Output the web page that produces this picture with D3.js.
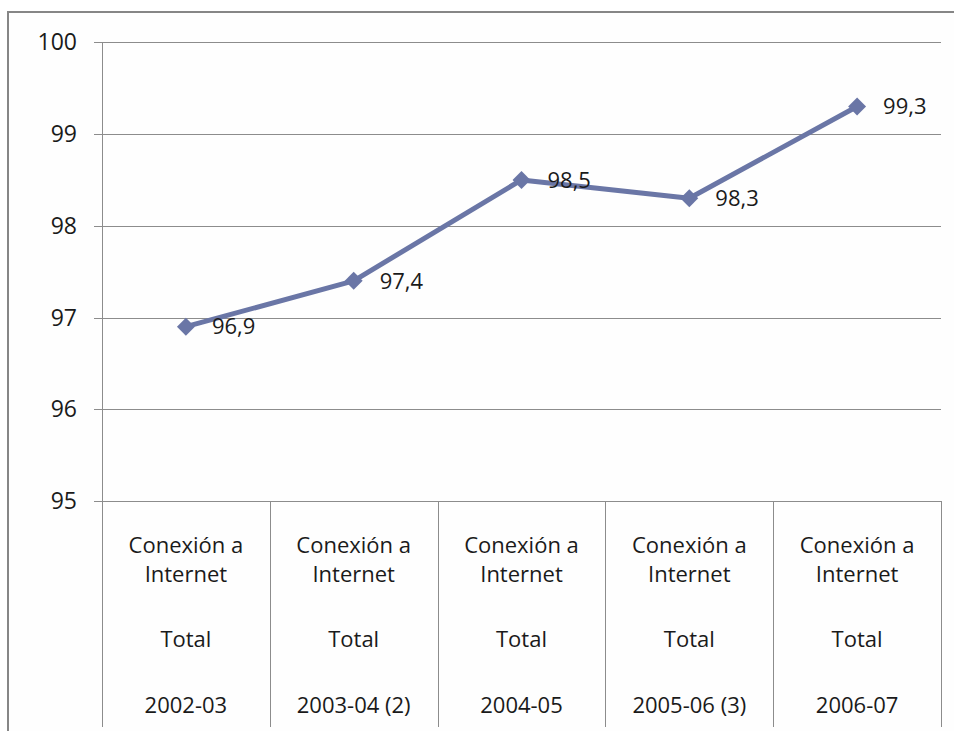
<!DOCTYPE html>
<html><head><meta charset="utf-8">
<script src="https://cdn.jsdelivr.net/npm/d3@7"></script>
<style>body{margin:0;background:#fff}svg{display:block}</style>
</head><body>
<svg id="c" width="954" height="731"></svg>
<script>
const categories = ["2002-03", "2003-04 (2)", "2004-05", "2005-06 (3)", "2006-07"];
const catLine1 = "Conexión a";
const catLine2 = "Internet";
const catLine3 = "Total";
const values = [96.9, 97.4, 98.5, 98.3, 99.3];
const valueLabels = ["96,9", "97,4", "98,5", "98,3", "99,3"];
const yTicks = [95, 96, 97, 98, 99, 100];

const svg = d3.select("#c");
const font = "'Open Sans', sans-serif";
const pLeft = 102, pRight = 941, pTop = 42.3, pBottom = 501;
const x = d3.scaleBand().domain(categories).range([pLeft, pRight]);
const y = d3.scaleLinear().domain([95, 100]).range([pBottom, pTop]);

// outer frame
svg.append("rect").attr("x", 8).attr("y", 12).attr("width", 960).attr("height", 760)
  .attr("fill", "#fefefe").attr("stroke", "#868686").attr("stroke-width", 2);

// gridlines
svg.append("g").selectAll("line").data(yTicks).join("line")
  .attr("x1", 94).attr("x2", pRight).attr("y1", d => Math.round(y(d)) + 0.5).attr("y2", d => Math.round(y(d)) + 0.5)
  .attr("stroke", "#8c8c8c").attr("stroke-width", 1);
// y axis line
svg.append("line").attr("x1", pLeft + 0.5).attr("x2", pLeft + 0.5).attr("y1", pTop).attr("y2", 727)
  .attr("stroke", "#8c8c8c");
// category separators
svg.append("g").selectAll("line").data(categories).join("line")
  .attr("x1", d => Math.round(x(d) + x.bandwidth()) + 0.5).attr("x2", d => Math.round(x(d) + x.bandwidth()) + 0.5)
  .attr("y1", pBottom).attr("y2", 727).attr("stroke", "#8c8c8c");

// y tick labels
svg.append("g").selectAll("text").data(yTicks).join("text")
  .attr("x", 77).attr("y", d => y(d)).attr("dy", "0.35em").attr("text-anchor", "end")
  .attr("font-family", font).attr("font-size", 23).attr("fill", "#1a1a1a").text(d => d);

// category labels
const cl = svg.append("g").attr("font-family", font).attr("font-size", 22).attr("fill", "#1a1a1a").attr("text-anchor", "middle");
categories.forEach(c => {
  const cx = x(c) + x.bandwidth() / 2;
  [[catLine1, 545], [catLine2, 574], [catLine3, 639], [c, 705]].forEach(([t, yy]) => {
    cl.append("text").attr("x", cx).attr("y", yy).attr("dy", "0.35em").text(t);
  });
});

// line
const lineGen = d3.line().x((d, i) => x(categories[i]) + x.bandwidth() / 2).y(d => y(d));
svg.append("path").datum(values).attr("d", lineGen).attr("fill", "none")
  .attr("stroke", "#6a76a6").attr("stroke-width", 5).attr("stroke-linejoin", "round");

// markers
svg.append("g").selectAll("path").data(values).join("path")
  .attr("d", d3.symbol().type(d3.symbolDiamond2).size(205))
  .attr("transform", (d, i) => `translate(${x(categories[i]) + x.bandwidth() / 2},${y(d)})`)
  .attr("fill", "#6a76a6");

// value labels
svg.append("g").selectAll("text").data(values).join("text")
  .attr("x", (d, i) => x(categories[i]) + x.bandwidth() / 2 + 26).attr("y", d => y(d)).attr("dy", "0.35em")
  .attr("font-family", font).attr("font-size", 22).attr("fill", "#1a1a1a").text((d, i) => valueLabels[i]);
</script>
</body></html>
